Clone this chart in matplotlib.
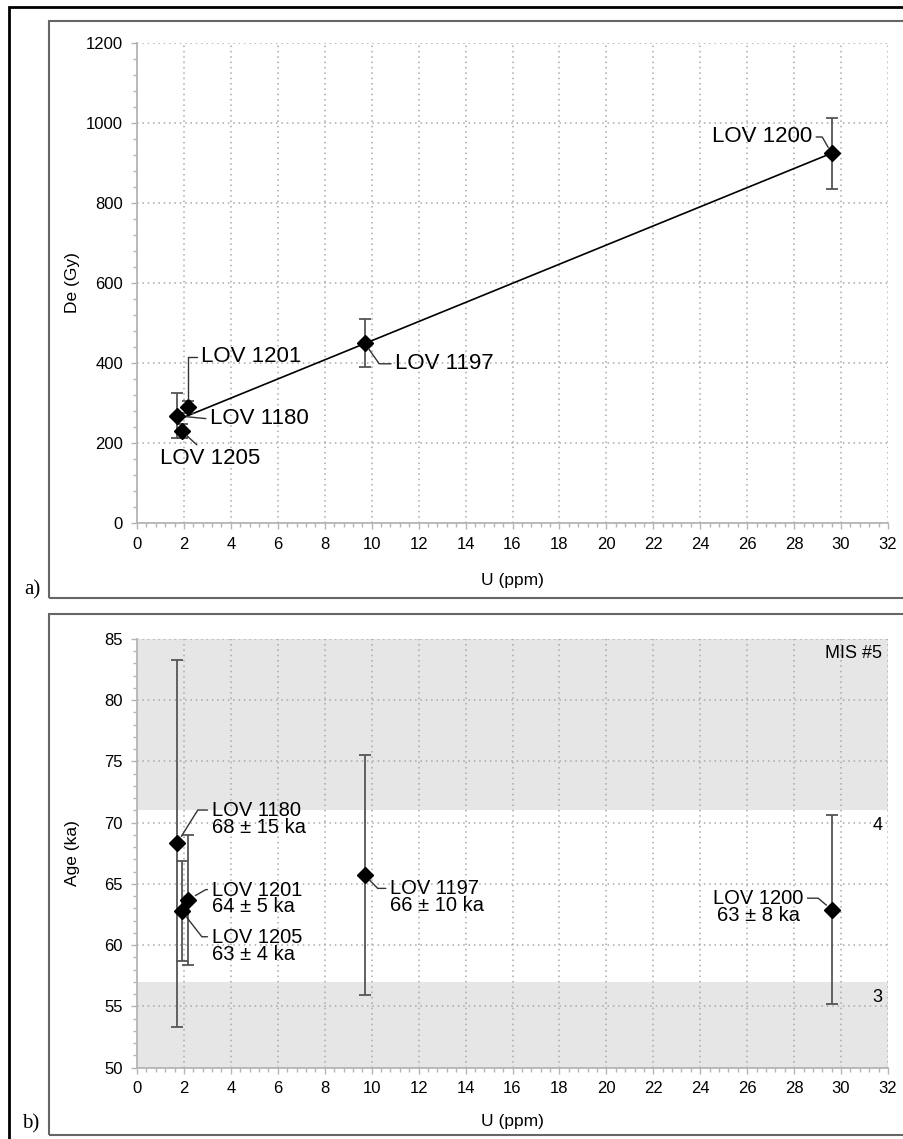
import numpy as np
import matplotlib
matplotlib.use('Agg')
import matplotlib.pyplot as plt
from matplotlib.patches import Rectangle
from matplotlib.ticker import MultipleLocator

plt.rcParams['font.family'] = ['Liberation Sans', 'DejaVu Sans']

# samples (same order in both panels)
samples = ['LOV 1180', 'LOV 1201', 'LOV 1205', 'LOV 1197', 'LOV 1200']
u_ppm = [1.70, 2.18, 1.90, 9.70, 29.6]

# panel a: equivalent dose
de_gy = [268, 289, 230, 450, 924]
de_err = [56, 15, 18, 60, 88]

# panel b: ages
age_ka = [68.3, 63.7, 62.8, 65.7, 62.9]
age_err = [15.0, 5.3, 4.1, 9.8, 7.7]
age_txt = ['68 ± 15 ka', '64 ± 5 ka', '63 ± 4 ka', '66 ± 10 ka', '63 ± 8 ka']

# MIS stages shading
mis_bands = [(71, 85), (50, 57)]
mis_labels = ['MIS #5', '4', '3']
mis_label_y = [83.8, 69.8, 55.7]

W, H = 904, 1139
fig = plt.figure(figsize=(W / 100, H / 100), dpi=100)


def px_rect(x0, y0, x1, y1, **kw):
    # rectangle in pixel coordinates (y from top)
    r = Rectangle((x0 / W, 1 - y1 / H), (x1 - x0) / W, (y1 - y0) / H,
                  transform=fig.transFigure, fill=False, **kw)
    fig.add_artist(r)


px_rect(9, 7, 915, 1150, lw=2, edgecolor='black')
px_rect(49, 21, 910, 598, lw=1.5, edgecolor='#666666')
px_rect(49, 614, 910, 1135, lw=1.5, edgecolor='#666666')
fig.text(32 / W, 1 - 590 / H, 'a)', family='Liberation Serif', fontsize=15, ha='center', va='center')
fig.text(31 / W, 1 - 1124 / H, 'b)', family='Liberation Serif', fontsize=15, ha='center', va='center')

left = 137 / W
width = 751 / W
ax1 = fig.add_axes([left, 1 - 523 / H, width, 480 / H])
ax2 = fig.add_axes([left, 1 - 1067.5 / H, width, 428.5 / H])


def style(ax):
    ax.set_axisbelow(True)
    for s in ['top', 'right']:
        ax.spines[s].set_visible(False)
    for s in ['left', 'bottom']:
        ax.spines[s].set_color('#b5b5b5')
        ax.spines[s].set_linewidth(1.3)
    ax.grid(True, which='major', color='#a8a8a8', linestyle=(0, (1, 2.5)), lw=1.1)
    ax.xaxis.set_major_locator(MultipleLocator(2))
    ax.xaxis.set_minor_locator(MultipleLocator(0.4))
    ax.tick_params(which='both', direction='out', color='#b5b5b5', labelsize=12, width=1)
    ax.tick_params(which='major', length=4, pad=6)
    ax.tick_params(which='minor', length=3)
    ax.set_xlim(0, 32)
    ax.set_xlabel('U (ppm)', fontsize=12.5)


style(ax1)
style(ax2)

mk = dict(fmt='D', color='black', ms=8, mec='black', ecolor='#555555',
          elinewidth=1.3, capsize=4, capthick=1.3, zorder=5)
lead = dict(arrowstyle='-', color='#333333', lw=1, shrinkA=1)

# ---- panel a
ax1.set_ylim(0, 1200)
ax1.yaxis.set_major_locator(MultipleLocator(200))
ax1.yaxis.set_minor_locator(MultipleLocator(40))
ax1.set_ylabel('De (Gy)', fontsize=12.5)
ax1.yaxis.set_label_coords(-0.076, 0.5)
ax1.xaxis.set_label_coords(0.5, -0.104)

slope, icept = np.polyfit(u_ppm, de_gy, 1)
xl = np.array([min(u_ppm), max(u_ppm)])
ax1.plot(xl, slope * xl + icept, color='black', lw=1.2, zorder=4)
ax1.errorbar(u_ppm, de_gy, yerr=de_err, ls='none', **mk)

# text position, alignment, connection
a_lbl = {
    'LOV 1180': ((3.11, 260), 'left', (0, 0.5), 'arc3', 7),
    'LOV 1201': ((2.73, 415), 'left', (0, 0.5), 'angle,angleA=0,angleB=90,rad=0', 6),
    'LOV 1205': ((0.98, 160), 'left', (0.42, 0.95), 'arc3', 5),
    'LOV 1197': ((11.0, 398), 'left', (0, 0.5), 'angle,angleA=0,angleB=125,rad=0', 5),
    'LOV 1200': ((28.76, 965), 'right', (1, 0.5), 'angle,angleA=0,angleB=-60,rad=0', 5),
}
for name, x, y in zip(samples, u_ppm, de_gy):
    pos, ha, rp, cs, sb = a_lbl[name]
    ax1.annotate(name, xy=(x, y), xytext=pos, ha=ha, va='center', fontsize=16,
                 arrowprops=dict(connectionstyle=cs, relpos=rp, shrinkB=sb, **lead),
                 zorder=6)

# ---- panel b
ax2.set_ylim(50, 85)
ax2.yaxis.set_major_locator(MultipleLocator(5))
ax2.yaxis.set_minor_locator(MultipleLocator(1))
ax2.set_ylabel('Age (ka)', fontsize=12.5)
ax2.yaxis.set_label_coords(-0.076, 0.5)
ax2.xaxis.set_label_coords(0.5, -0.108)

for lo, hi in mis_bands:
    ax2.axhspan(lo, hi, color='#e6e6e6', lw=0, zorder=0)
for t, y in zip(mis_labels, mis_label_y):
    ax2.text(31.75, y, t, ha='right', va='center', fontsize=13)

ax2.errorbar(u_ppm, age_ka, yerr=age_err, ls='none', **mk)

b_lbl = {
    'LOV 1180': ((3.18, 70.3), 'left', (0, 0.75), 'angle,angleA=0,angleB=58,rad=0', 6),
    'LOV 1201': ((3.18, 63.8), 'left', (0, 0.75), 'angle,angleA=0,angleB=30,rad=0', 6),
    'LOV 1205': ((3.18, 59.95), 'left', (0, 0.75), 'angle,angleA=0,angleB=128,rad=0', 6),
    'LOV 1197': ((10.78, 63.9), 'left', (0, 0.75), 'angle,angleA=0,angleB=135,rad=0', 5),
    'LOV 1200': ((28.39, 63.1), 'right', (1, 0.75), 'angle,angleA=0,angleB=140,rad=0', 5),
}
for name, x, y, t in zip(samples, u_ppm, age_ka, age_txt):
    pos, ha, rp, cs, sb = b_lbl[name]
    ax2.annotate(name + '\n' + t, xy=(x, y), xytext=pos, ha=ha, va='center',
                 multialignment='center' if ha == 'right' else 'left',
                 fontsize=14.5, linespacing=0.85,
                 arrowprops=dict(connectionstyle=cs, relpos=rp, shrinkB=sb, **lead),
                 zorder=6)

fig.savefig('out.png', dpi=100)
